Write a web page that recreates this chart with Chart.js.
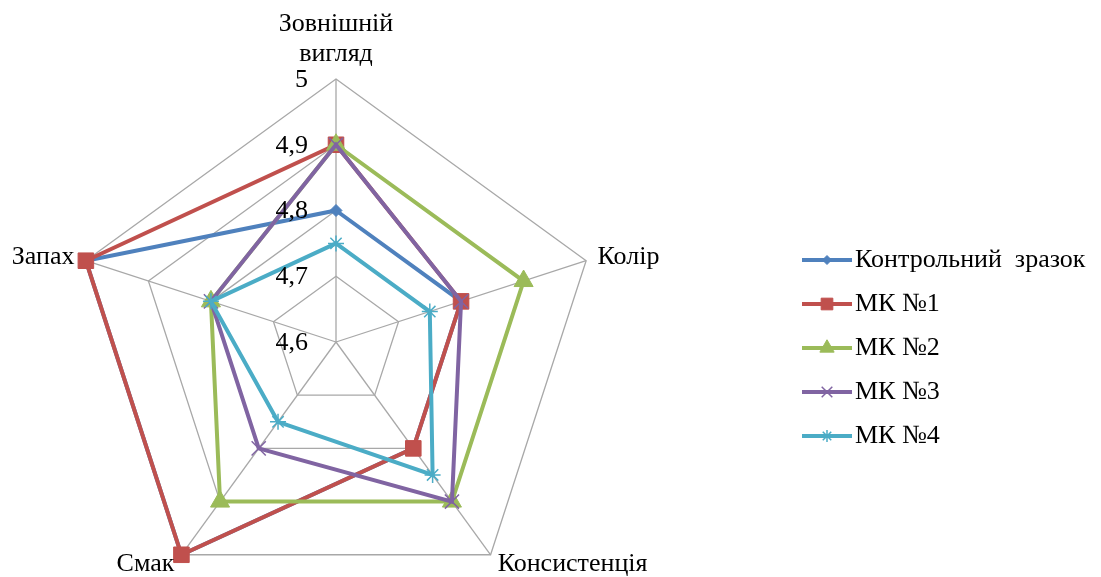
<!DOCTYPE html>
<html>
<head>
<meta charset="utf-8">
<script src="https://cdn.jsdelivr.net/npm/chart.js@4"></script>
<style>
  html, body { margin: 0; padding: 0; background: #fff; overflow: hidden; width: 1101px; height: 577px; }
  #wrap { position: absolute; left: -112px; top: 0; width: 1240px; height: 605px; }
</style>
</head>
<body>
<div id="wrap"><canvas id="radarChart"></canvas></div>
<script>
// categories (axes)
const categories = [["Зовнішній", "вигляд"], "Колір", "Консистенція", "Смак", "Запах"];

// series values
const control = [4.8, 4.8, 4.8, 5.0, 5.0];
const mk1 = [4.9, 4.8, 4.8, 5.0, 5.0];
const mk2 = [4.9, 4.9, 4.9, 4.9, 4.8];
const mk3 = [4.9, 4.8, 4.9, 4.8, 4.8];
const mk4 = [4.75, 4.75, 4.85, 4.75, 4.8];

const seriesNames = ["Контрольний  зразок", "МК №1", "МК №2", "МК №3", "МК №4"];

// tick labels
const tickValues = [4.6, 4.7, 4.8, 4.9, 5];
const tickLabels = ["4,6", "4,7", "4,8", "4,9", "5"];

const colors = ["#4F81BD", "#C0504D", "#9BBB59", "#8064A2", "#4BACC6"];
const markers = [
  { style: "rectRot", radius: 6, width: 1 },
  { style: "rect", radius: 11, width: 1 },
  { style: "triangle", radius: 11, width: 1 },
  { style: "crossRot", radius: 10, width: 1.5 },
  { style: "star", radius: 8, width: 1.5 },
];

const FONT = '"Liberation Serif", "Times New Roman", serif';
const legendFontSize = 26;
const legendPadding = 18;
const legendBoxWidth = 40;

// legend icons: short line with marker in the middle
const legendIcons = colors.map(function (c, i) {
  const cv = document.createElement("canvas");
  cv.width = 60;
  cv.height = 22;
  const g = cv.getContext("2d");
  g.strokeStyle = c;
  g.lineWidth = 4;
  g.beginPath();
  g.moveTo(10, 11);
  g.lineTo(60, 11);
  g.stroke();
  g.fillStyle = c;
  g.strokeStyle = c;
  g.lineWidth = markers[i].width;
  const opts = {
    pointStyle: markers[i].style,
    radius: markers[i].radius * 0.75,
    borderWidth: markers[i].width,
    rotation: 0,
  };
  Chart.helpers.drawPoint(g, opts, 35, 11);
  return cv;
});

// place legend so its items start at x = 802 on the page
const measure = document.createElement("canvas").getContext("2d");
measure.font = legendFontSize + "px " + FONT;
const maxText = Math.max.apply(null, seriesNames.map(function (n) { return measure.measureText(n).width; }));
const legendWidth = legendPadding + legendBoxWidth + legendFontSize / 2 + maxText + 10;
const padRight = Math.max(0, 1240 - (802 + 112 - legendPadding) - legendWidth);

const textPlugin = {
  id: "radarText",
  afterDraw(chart) {
    const scale = chart.scales.r;
    const ctx = chart.ctx;
    ctx.save();
    ctx.fillStyle = "#000";
    ctx.font = "26px " + FONT;

    // value labels left of the top axis
    ctx.textAlign = "right";
    ctx.textBaseline = "middle";
    tickValues.forEach(function (v, i) {
      const y = scale.yCenter - scale.getDistanceFromCenterForValue(v);
      ctx.fillText(tickLabels[i], scale.xCenter - 28, y + 1);
    });

    // axis names
    categories.forEach(function (lab, i) {
      const p = scale.getPointPosition(i, scale.drawingArea + 12);
      const lines = [].concat(lab);
      if (Math.abs(p.x - scale.xCenter) < 1) {
        ctx.textAlign = "center";
        ctx.textBaseline = "bottom";
        for (let k = lines.length - 1, y = p.y; k >= 0; k--, y -= 30) {
          ctx.fillText(lines[k], p.x, y);
        }
      } else {
        ctx.textAlign = p.x > scale.xCenter ? "left" : "right";
        ctx.textBaseline = "middle";
        ctx.fillText(lines[0], p.x, p.y);
      }
    });
    ctx.restore();
  },
};

const allSeries = [control, mk1, mk2, mk3, mk4];

const ctx = document.getElementById("radarChart");
new Chart(ctx, {
  type: "radar",
  data: {
    labels: categories,
    datasets: allSeries.map(function (values, i) {
      return {
        label: seriesNames[i],
        data: values,
        order: allSeries.length - i, // later series drawn on top
        borderColor: colors[i],
        backgroundColor: colors[i],
        borderWidth: 4,
        fill: false,
        tension: 0,
        pointStyle: markers[i].style,
        pointRadius: markers[i].radius,
        pointBorderWidth: markers[i].width,
        pointBackgroundColor: colors[i],
        pointBorderColor: colors[i],
        pointHoverRadius: markers[i].radius,
      };
    }),
  },
  options: {
    responsive: true,
    maintainAspectRatio: false,
    animation: false,
    layout: {
      padding: { top: 79, left: 0, right: padRight, bottom: 0 },
    },
    plugins: {
      tooltip: { enabled: false },
      legend: {
        position: "right",
        align: "center",
        // empty title only nudges the items down a little
        title: { display: true, text: "", font: { size: 12, lineHeight: 1 }, padding: 0 },
        labels: {
          usePointStyle: true,
          pointStyleWidth: legendBoxWidth,
          padding: legendPadding,
          color: "#000",
          font: { family: FONT, size: legendFontSize },
          generateLabels(chart) {
            const items = Chart.defaults.plugins.legend.labels.generateLabels(chart);
            items.forEach(function (it) {
              it.pointStyle = legendIcons[it.datasetIndex];
            });
            return items.sort(function (a, b) { return a.datasetIndex - b.datasetIndex; });
          },
        },
      },
    },
    scales: {
      r: {
        min: 4.6,
        max: 5,
        ticks: { display: false, stepSize: 0.1 },
        pointLabels: { display: false },
        grid: { color: "#a8a8a8", lineWidth: 1.3 },
        angleLines: { color: "#a8a8a8", lineWidth: 1.3 },
      },
    },
  },
  plugins: [textPlugin],
});
</script>
</body>
</html>
